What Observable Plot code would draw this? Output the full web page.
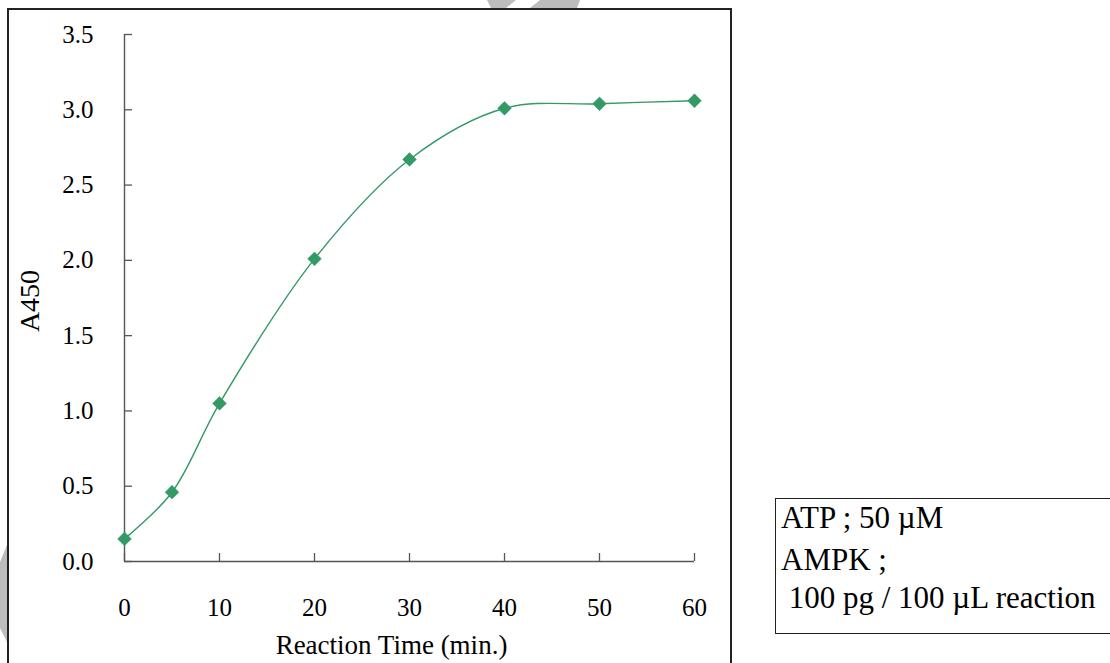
<!DOCTYPE html>
<html>
<head>
<meta charset="utf-8">
<script src="https://cdn.jsdelivr.net/npm/d3@7"></script>
<script src="https://cdn.jsdelivr.net/npm/@observablehq/plot@0.6"></script>
<style>
  html, body { margin: 0; padding: 0; background: #fff; overflow: hidden; }
  #stage { position: relative; width: 1110px; height: 663px; font-family: "Liberation Serif", "Times New Roman", serif; }
  #frame { position: absolute; left: 7px; top: 8px; width: 725px; height: 720px; border: 2px solid #222; box-sizing: border-box; }
  #legend { position: absolute; left: 775px; top: 498px; width: 400px; height: 136px; border: 1.8px solid #222; box-sizing: border-box; }
  .lg { position: absolute; left: 5px; font-size: 31px; line-height: 31px; color: #000; white-space: pre; }
  #chart { position: absolute; left: 0; top: 0; }
  #wm { position: absolute; left: 0; top: 0; }
  #chart text { font-family: "Liberation Serif", "Times New Roman", serif; }
</style>
</head>
<body>
<div id="stage">
  <svg id="wm" width="1110" height="663">
    <polygon points="487,0 516,0 506,8 491,8" fill="#bdbdbd"/>
    <polygon points="540,0 580,0 577,8 530,8" fill="#bdbdbd"/>
    <polygon points="7,545 0,562 0,628 7,642" fill="#bdbdbd"/>
  </svg>
  <div id="frame"></div>
  <div id="chart"></div>
  <div id="legend"></div>
</div>
<script>
// Data
const times = [0, 5, 10, 20, 30, 40, 50, 60];
const a450 = [0.15, 0.46, 1.05, 2.01, 2.67, 3.01, 3.04, 3.06];
const xTicks = [0, 10, 20, 30, 40, 50, 60];
const yTicks = [0, 0.5, 1.0, 1.5, 2.0, 2.5, 3.0, 3.5];
const xTitle = "Reaction Time (min.)";
const yTitle = "A450";
const legendLines = ["ATP ; 50 \u00b5M", "AMPK ;", " 100 pg / 100 \u00b5L reaction"];

const data = times.map((t, i) => ({t, v: a450[i]}));
const green = "#339966";
const axisColor = "#555";
const serif = "'Liberation Serif', 'Times New Roman', serif";

const chart = Plot.plot({
  width: 1110,
  height: 663,
  marginLeft: 124,
  marginRight: 416,
  marginTop: 34,
  marginBottom: 102,
  style: {fontFamily: serif, color: "#000", background: "transparent", overflow: "visible"},
  x: {domain: [0, 60]},
  y: {domain: [0, 3.5]},
  marks: [
    Plot.ruleX([0], {y1: 0, y2: 3.5, stroke: axisColor, strokeWidth: 1.4}),
    Plot.ruleY([0], {x1: 0, x2: 60, stroke: axisColor, strokeWidth: 1.4}),
    Plot.axisY(yTicks, {anchor: "left", tickSize: 8, dx: 8, tickFormat: () => "", label: null, stroke: axisColor, strokeWidth: 1.3}),
    Plot.axisX(xTicks, {anchor: "bottom", tickSize: 8, dy: -8, tickFormat: () => "", label: null, stroke: axisColor, strokeWidth: 1.3}),
    Plot.axisY(yTicks, {anchor: "left", tickSize: 0, tickPadding: 31, tickFormat: d3.format(".1f"), fontSize: 25, fontFamily: serif, fontVariant: "normal", label: null, fill: "#000"}),
    Plot.axisX(xTicks, {anchor: "bottom", tickSize: 0, tickPadding: 37, tickFormat: d3.format("d"), fontSize: 25, fontFamily: serif, fontVariant: "normal", label: null, fill: "#000"}),
    Plot.text([xTitle], {frameAnchor: "bottom", lineAnchor: "middle", textAnchor: "middle", dy: 84, dx: -18, fontSize: 27, fontFamily: serif, fill: "#000"}),
    Plot.text([yTitle], {frameAnchor: "left", lineAnchor: "middle", textAnchor: "middle", rotate: -90, dx: -94, dy: 3, fontSize: 28, fontFamily: serif, fill: "#000"}),
    Plot.line(data, {x: "t", y: "v", curve: "catmull-rom", stroke: green, strokeWidth: 1.4}),
    Plot.dot(data, {x: "t", y: "v", symbol: "diamond2", r: 6.2, fill: green, stroke: green, strokeWidth: 0.5})
  ]
});
document.getElementById("chart").appendChild(chart);

const legend = document.getElementById("legend");
const tops = [3, 45, 83];
legendLines.forEach((s, i) => {
  const d = document.createElement("div");
  d.className = "lg";
  d.style.top = tops[i] + "px";
  d.textContent = s;
  legend.appendChild(d);
});
</script>
</body>
</html>
